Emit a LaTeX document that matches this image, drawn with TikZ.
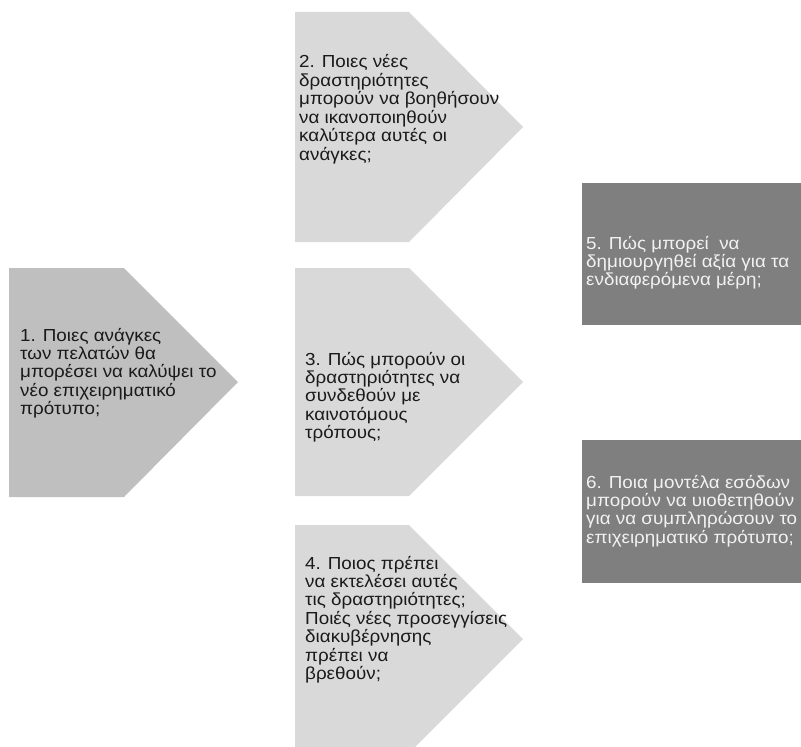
\documentclass[tikz,border=0pt]{standalone}
\usepackage{fontspec}
\setmainfont{Liberation Sans}[FakeStretch=1.08]
\definecolor{grA}{HTML}{BFBFBF}
\definecolor{grB}{HTML}{D9D9D9}
\definecolor{grC}{HTML}{7F7F7F}
\definecolor{txD}{HTML}{1A1A1A}
\definecolor{txL}{HTML}{F2F2F2}
\newcommand{\txtlines}[1]{\parbox[t]{260bp}{\raggedright #1}}
\begin{document}
\begin{tikzpicture}[x=1bp,y=-1bp,
  lbl/.style={anchor=base west, inner sep=0pt,
    font=\fontsize{17.5}{18.5}\selectfont},
  dark/.style={lbl, text=txD},
  light/.style={lbl, text=txL}]
\useasboundingbox (0,0) rectangle (801,747);
\clip (0,0) rectangle (801,747);
% chevron-like pentagons
\fill[grA] (9,268) -- (124,268) -- (238,382) -- (124,497) -- (9,497) -- cycle;
\fill[grB] (295,12) -- (409,12) -- (523,127) -- (409,242) -- (295,242) -- cycle;
\fill[grB] (295,268) -- (409,268) -- (523,382) -- (409,496) -- (295,496) -- cycle;
\fill[grB] (295,525) -- (409,525) -- (523,639) -- (409,753) -- (295,753) -- cycle;
% rectangles
\fill[grC] (582,183) rectangle (820,325);
\fill[grC] (582,440) rectangle (820,583);
% texts (anchored at the baseline of the first line)
\node[dark] (t1) at (20,341) {\txtlines{1. Ποιες ανάγκες\\των πελατών θα\\μπορέσει να καλύψει το\\νέο επιχειρηματικό\\πρότυπο;}};
\node[dark] (t2) at (299,68) {\txtlines{2. Ποιες νέες\\δραστηριότητες\\μπορούν να βοηθήσουν\\να ικανοποιηθούν\\καλύτερα αυτές οι\\ανάγκες;}};
\node[dark] (t3) at (305,365) {\txtlines{3. Πώς μπορούν οι\\δραστηριότητες να\\συνδεθούν με\\καινοτόμους\\τρόπους;}};
\node[dark] (t4) at (305,569) {\txtlines{4. Ποιος πρέπει\\να εκτελέσει αυτές\\τις δραστηριότητες;\\Ποιές νέες προσεγγίσεις\\διακυβέρνησης\\πρέπει να\\βρεθούν;}};
\node[light] (t5) at (586,249) {\txtlines{5. Πώς μπορεί\ \ να\\δημιουργηθεί αξία για τα\\ενδιαφερόμενα μέρη;}};
\node[light] (t6) at (586,488) {\txtlines{6. Ποια μοντέλα εσόδων\\μπορούν να υιοθετηθούν\\για να συμπληρώσουν το\\επιχειρηματικό πρότυπο;}};
\end{tikzpicture}
\end{document}
